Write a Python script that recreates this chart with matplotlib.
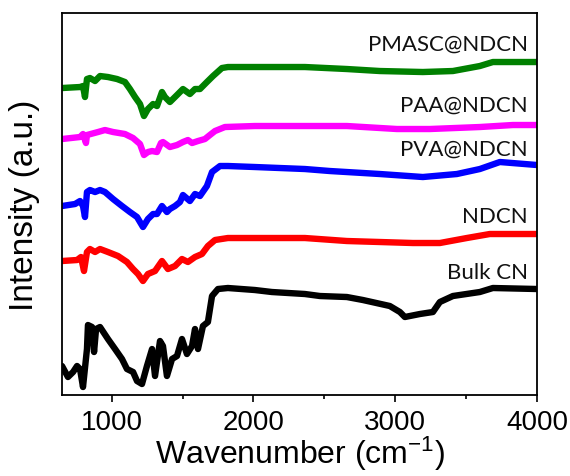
import matplotlib
matplotlib.use("Agg")
import matplotlib.pyplot as plt
from matplotlib.ticker import MultipleLocator

plt.rcParams['font.family'] = ['Liberation Sans', 'DejaVu Sans']
plt.rcParams['mathtext.fontset'] = 'custom'
plt.rcParams['mathtext.rm'] = 'Liberation Sans'
plt.rcParams['mathtext.it'] = 'Liberation Sans'

# spectra (wavenumber in cm-1, intensity in a.u., stacked)
pmasc_x = [650, 777, 798, 812, 826, 847, 883, 918, 974, 1038, 1094, 1129, 1165, 1200, 1228,
           1256, 1292, 1320, 1355, 1376, 1411, 1461, 1503, 1552, 1588, 1623, 1672, 1715, 1778,
           1820, 2010, 2363, 2659, 2892, 3195, 3407, 3597, 3689, 4000]
pmasc_y = [307, 308, 309, 298, 316, 317, 314, 319, 318, 316, 313, 306, 298, 291, 279,
           286, 291, 289, 303, 298, 293, 300, 306, 301, 306, 306, 313, 319, 327,
           328, 328, 328, 326, 324, 323, 324, 329, 333, 333]

paa_x = [650, 777, 798, 819, 826, 904, 953, 1010, 1094, 1151, 1200, 1228, 1256, 1285, 1320,
         1348, 1362, 1411, 1461, 1503, 1538, 1567, 1609, 1658, 1693, 1729, 1799, 2010, 2363,
         2659, 3012, 3244, 3597, 3830, 4000]
paa_y = [256, 258, 261, 252, 260, 263, 265, 263, 261, 257, 251, 240, 243, 244, 243,
         252, 253, 248, 250, 253, 255, 252, 254, 256, 260, 264, 268, 269, 269,
         269, 266, 266, 268, 270, 270]

pva_x = [650, 742, 777, 798, 812, 826, 847, 883, 918, 953, 1010, 1073, 1129, 1179, 1221,
         1256, 1292, 1320, 1355, 1390, 1411, 1447, 1482, 1503, 1552, 1588, 1623, 1672, 1708,
         1764, 1820, 2010, 2363, 2539, 2892, 3195, 3435, 3597, 3738, 4000]
pva_y = [189, 191, 194, 189, 178, 203, 205, 203, 205, 203, 196, 189, 183, 178, 168,
         176, 181, 181, 189, 183, 186, 189, 193, 200, 194, 201, 199, 209, 223,
         229, 229, 228, 226, 224, 221, 218, 221, 226, 233, 230]

ndcn_x = [650, 756, 784, 805, 826, 847, 883, 918, 974, 1045, 1108, 1151, 1186, 1221, 1256,
          1306, 1355, 1397, 1447, 1496, 1538, 1588, 1637, 1679, 1729, 1820, 2010, 2363, 2659,
          3125, 3315, 3505, 3667, 4000]
ndcn_y = [134, 135, 138, 124, 143, 146, 143, 146, 143, 139, 133, 126, 121, 114, 121,
          124, 134, 126, 129, 136, 133, 138, 141, 149, 155, 157, 157, 157, 154,
          152, 152, 157, 161, 161]

bulk_x = [650, 692, 728, 756, 777, 798, 826, 833, 862, 876, 890, 918, 974, 1024, 1073,
          1108, 1151, 1179, 1214, 1249, 1285, 1306, 1341, 1362, 1390, 1426, 1461, 1496, 1531,
          1567, 1588, 1609, 1644, 1679, 1708, 1750, 1820, 2010, 2130, 2363, 2469, 2659, 2772,
          2962, 3033, 3068, 3174, 3266, 3315, 3407, 3597, 3689, 4000]
bulk_y = [29, 18, 23, 29, 26, 8, 46, 70, 68, 43, 66, 68, 56, 46, 36,
          26, 23, 14, 11, 29, 46, 19, 54, 49, 19, 36, 39, 56, 41,
          49, 66, 46, 69, 73, 99, 106, 107, 105, 103, 101, 99, 98, 95,
          89, 83, 78, 81, 83, 93, 99, 103, 107, 106]

fig = plt.figure(figsize=(5.7, 4.77), dpi=100)
ax = fig.add_axes([0.1088, 0.1698, 0.8333, 0.8008])

lw = 4.6
ax.plot(bulk_x, bulk_y, color="black", lw=lw, solid_joinstyle="round", solid_capstyle="round")
ax.plot(ndcn_x, ndcn_y, color="#ff0000", lw=lw, solid_joinstyle="round", solid_capstyle="round")
ax.plot(pva_x, pva_y, color="#0000ff", lw=lw, solid_joinstyle="round", solid_capstyle="round")
ax.plot(paa_x, paa_y, color="#ff00ff", lw=lw, solid_joinstyle="round", solid_capstyle="round")
ax.plot(pmasc_x, pmasc_y, color="#008000", lw=lw, solid_joinstyle="round", solid_capstyle="round")

lab_font = ['Lato', 'DejaVu Sans']
for name, yy in [("PMASC@NDCN", 351), ("PAA@NDCN", 290), ("PVA@NDCN", 246),
                 ("NDCN", 179), ("Bulk CN", 123)]:
    ax.text(3935, yy, name, ha="right", va="center", fontsize=16, family=lab_font,
            color="#111111")

ax.set_xlim(650, 4000)
ax.set_ylim(0, 382)
ax.set_yticks([])
ax.xaxis.set_major_locator(MultipleLocator(1000))
ax.xaxis.set_minor_locator(MultipleLocator(500))
ax.tick_params(axis="x", which="major", direction="out", length=5, width=1.2,
               labelsize=20, pad=5)
ax.tick_params(axis="x", which="minor", direction="out", length=3, width=1.2)
for s in ax.spines.values():
    s.set_linewidth(1.3)

ax.set_xlabel("Wavenumber (cm$^{-1}$)", fontsize=23, labelpad=-1)
ax.set_ylabel("Intensity (a.u.)", fontsize=24, labelpad=16)

fig.savefig("out.png", dpi=100)
